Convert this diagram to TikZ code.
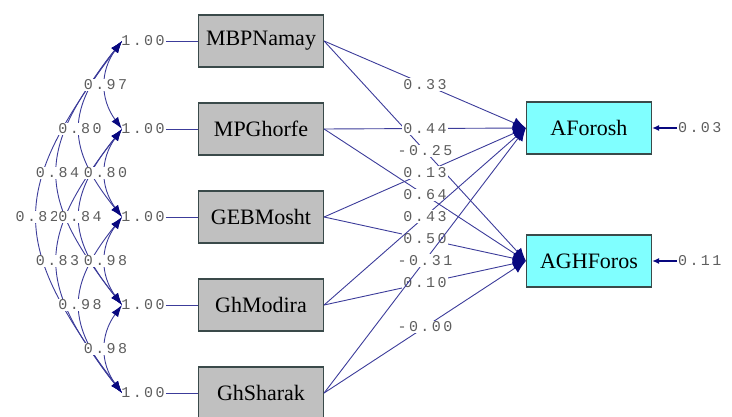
\documentclass[tikz,border=0pt]{standalone}
\usepackage{fontspec}
\setmainfont{Liberation Serif}
\newfontfamily\numfont[LetterSpace=16]{Liberation Mono}
\usepackage{tikz}
\usetikzlibrary{arrows.meta,positioning}
\definecolor{lisblue}{HTML}{3C3C9A}
\definecolor{lisnavy}{HTML}{08087F}
\definecolor{lisgray}{HTML}{5E5E5E}
\definecolor{boxgray}{HTML}{C0C0C0}
\definecolor{boxcyan}{HTML}{80FFFF}
\definecolor{boxedge}{HTML}{3A4A4A}

\begin{document}
\begin{tikzpicture}[x=1pt, y=-1pt,
  obs/.style={draw=boxedge, line width=1.2pt, fill=boxgray,
    minimum width=125pt, minimum height=52pt, inner sep=0pt,
    font=\fontsize{22}{25}\selectfont},
  endo/.style={obs, fill=boxcyan},
  num/.style={font=\numfont\fontsize{15}{17}\selectfont, text=lisgray,
    inner sep=1pt},
  coef/.style={num, fill=white},
  eff/.style={-{Latex[length=13pt,width=11pt,color=lisnavy]},
    line width=0.9pt, draw=lisblue},
  cov/.style={{Latex[length=12pt,width=8pt,color=lisnavy]}-{Latex[length=12pt,width=8pt,color=lisnavy]},
    line width=0.9pt, draw=lisblue},
  err/.style={-{Latex[length=7pt,width=6pt,color=lisnavy]},
    line width=1.6pt, draw=lisnavy},
  link/.style={line width=0.9pt, draw=lisblue}]
\useasboundingbox (0,0) rectangle (732,417);

% observed variables
\node[obs] (mbp) at (261,41) {MBPNamay};
\node[obs] (mpg) at (261,129) {MPGhorfe};
\node[obs] (geb) at (261,217) {GEBMosht};
\node[obs] (ghm) at (261,305) {GhModira};
\node[obs] (ghs) at (261,393) {GhSharak};
\node[endo] (afo) at (589,128) {AForosh};
\node[endo] (agh) at (589,261) {AGHForos};

% variances
\node[num] (vmbp) at (143,41) {1.00};
\node[num] (vmpg) at (143,129) {1.00};
\node[num] (vgeb) at (143,217) {1.00};
\node[num] (vghm) at (143,305) {1.00};
\node[num] (vghs) at (143,393) {1.00};
\draw[link] (vmbp.east) -- (mbp.west);
\draw[link] (vmpg.east) -- (mpg.west);
\draw[link] (vgeb.east) -- (geb.west);
\draw[link] (vghm.east) -- (ghm.west);
\draw[link] (vghs.east) -- (ghs.west);
\coordinate (kmbp) at (122,41);
\coordinate (kmpg) at (122,129);
\coordinate (kgeb) at (122,217);
\coordinate (kghm) at (122,305);
\coordinate (kghs) at (122,393);

% covariances
\draw[cov] (kmbp) .. controls +(-113,150) and +(-113,-150) .. (kghs)
  node[coef, pos=0.5] {0.82};
\draw[cov] (kmbp) .. controls +(-86,110) and +(-86,-110) .. (kghm)
  node[coef, pos=0.5] {0.84};
\draw[cov] (kmpg) .. controls +(-86,110) and +(-86,-110) .. (kghs)
  node[coef, pos=0.5] {0.83};
\draw[cov] (kmbp) .. controls +(-56,70) and +(-56,-70) .. (kgeb)
  node[coef, pos=0.5] {0.80};
\draw[cov] (kmpg) .. controls +(-56,70) and +(-56,-70) .. (kghm)
  node[coef, pos=0.5] {0.84};
\draw[cov] (kgeb) .. controls +(-56,70) and +(-56,-70) .. (kghs)
  node[coef, pos=0.5] {0.98};
\draw[cov] (kmbp) .. controls +(-22,30) and +(-22,-30) .. (kmpg)
  node[coef, pos=0.5] {0.97};
\draw[cov] (kmpg) .. controls +(-22,30) and +(-22,-30) .. (kgeb)
  node[coef, pos=0.5] {0.80};
\draw[cov] (kgeb) .. controls +(-22,30) and +(-22,-30) .. (kghm)
  node[coef, pos=0.5] {0.98};
\draw[cov] (kghm) .. controls +(-22,30) and +(-22,-30) .. (kghs)
  node[coef, pos=0.5] {0.98};

% effects
\draw[eff] (mbp.east) -- (afo.west) node[coef, midway] {0.33};
\draw[eff] (mbp.east) -- (agh.west) node[coef, midway] {-0.25};
\draw[eff] (mpg.east) -- (afo.west) node[coef, midway] {0.44};
\draw[eff] (mpg.east) -- (agh.west) node[coef, midway] {0.64};
\draw[eff] (geb.east) -- (afo.west) node[coef, midway] {0.13};
\draw[eff] (geb.east) -- (agh.west) node[coef, midway] {0.50};
\draw[eff] (ghm.east) -- (afo.west) node[coef, midway] {0.43};
\draw[eff] (ghm.east) -- (agh.west) node[coef, midway] {0.10};
\draw[eff] (ghs.east) -- (afo.west) node[coef, midway] {-0.31};
\draw[eff] (ghs.east) -- (agh.west) node[coef, midway] {-0.00};

% errors
\node[num, anchor=west] (eafo) at (677,128) {0.03};
\node[num, anchor=west] (eagh) at (677,261) {0.11};
\draw[err] (eafo.west) -- (afo.east);
\draw[err] (eagh.west) -- (agh.east);
\end{tikzpicture}
\end{document}
